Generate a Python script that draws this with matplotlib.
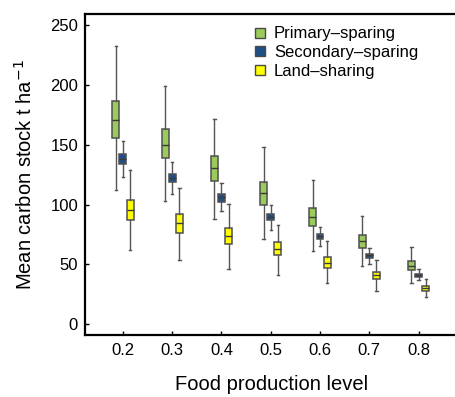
import matplotlib
matplotlib.use("Agg")
import matplotlib.pyplot as plt
from matplotlib.lines import Line2D

plt.rcParams['font.family'] = ['Liberation Sans', 'DejaVu Sans']

levels = [0.2, 0.3, 0.4, 0.5, 0.6, 0.7, 0.8]
tick_labels = ['0.2', '0.3', '0.4', '0.5', '0.6', '0.7', '0.8']
series_names = ['Primary\u2013sparing', 'Secondary\u2013sparing', 'Land\u2013sharing']

# whisker low, q1, median, q3, whisker high
primary_lo  = [112, 103, 88, 71, 61, 49, 34]
primary_q1  = [155.5, 139, 119.5, 99.5, 82, 64, 45]
primary_med = [171, 150, 130.7, 109.7, 89.7, 69.7, 49]
primary_q3  = [186.5, 163.3, 141, 118.8, 97.5, 74.7, 53.2]
primary_hi  = [233, 199, 171.5, 148, 120.4, 90.8, 64.4]

secondary_lo  = [123, 108.7, 94.7, 79, 65.5, 50.7, 37]
secondary_q1  = [134, 118.7, 102.3, 87, 71.3, 55.4, 39.5]
secondary_med = [138, 122.3, 106, 89.7, 73.6, 57.4, 41]
secondary_q3  = [142, 125.4, 109.2, 92, 75.5, 59, 42.3]
secondary_hi  = [153, 135.4, 118, 100, 81.4, 63.5, 45.7]

sharing_lo  = [62, 54, 46.5, 41.5, 34, 28, 22.6]
sharing_q1  = [87, 76.6, 66.6, 57.4, 47.1, 37.6, 27.8]
sharing_med = [95.3, 84.4, 73.6, 63, 51.5, 41, 30.1]
sharing_q3  = [103.7, 92.2, 80.5, 68.6, 56, 43.7, 32.3]
sharing_hi  = [128.7, 114, 100.3, 82.8, 69.4, 53.5, 37.6]

series = [
    (primary_lo, primary_q1, primary_med, primary_q3, primary_hi),
    (secondary_lo, secondary_q1, secondary_med, secondary_q3, secondary_hi),
    (sharing_lo, sharing_q1, sharing_med, sharing_q3, sharing_hi),
]
colors = ['#9bcb5b', '#1e4f88', '#ffff00']
offsets = [-0.0145, 0.0, 0.0145]
box_w = 0.014

fig = plt.figure(figsize=(4.56, 3.97), dpi=100)
ax = fig.add_axes([85/456, 62/397, (459-85)/456, (335-14)/397])

for (lo, q1, med, q3, hi), col, off in zip(series, colors, offsets):
    stats = []
    for i in range(len(levels)):
        stats.append(dict(whislo=lo[i], q1=q1[i], med=med[i], q3=q3[i], whishi=hi[i], fliers=[]))
    pos = [l + off for l in levels]
    ax.bxp(stats, positions=pos, widths=box_w, patch_artist=True, showfliers=False,
           boxprops=dict(facecolor=col, edgecolor='#505050', linewidth=1.1),
           medianprops=dict(color='#3a3a3a', linewidth=1.0),
           whiskerprops=dict(color='#555555', linewidth=1.0),
           capprops=dict(color='#555555', linewidth=1.0),
           capwidths=0.005, manage_ticks=False)

ax.set_xlim(0.123, 0.882)
ax.set_ylim(-9.1, 259.4)
ax.set_xticks(levels)
ax.set_xticklabels(tick_labels)
ax.set_yticks([0, 50, 100, 150, 200, 250])
ax.tick_params(direction='in', length=3, width=1, labelsize=12, pad=6)
ax.tick_params(axis='y', pad=5)
ax.spines['right'].set_visible(False)
for s in ['left', 'bottom', 'top']:
    ax.spines[s].set_linewidth(1.6)

ax.set_xlabel('Food production level', fontsize=14.5, labelpad=12)
ax.set_ylabel('Mean carbon stock t ha$^{-1}$', fontsize=14.5, labelpad=10)

handles = [Line2D([0], [0], marker='s', linestyle='none', markerfacecolor=c,
                  markeredgecolor='#4a4a4a', markersize=7) for c in colors]
ax.legend(handles, series_names, loc='upper left', bbox_to_anchor=(0.405, 1.008),
          frameon=False, fontsize=12, handletextpad=0.35, labelspacing=0.22,
          handlelength=1.0)

fig.savefig('out.png', dpi=100)
